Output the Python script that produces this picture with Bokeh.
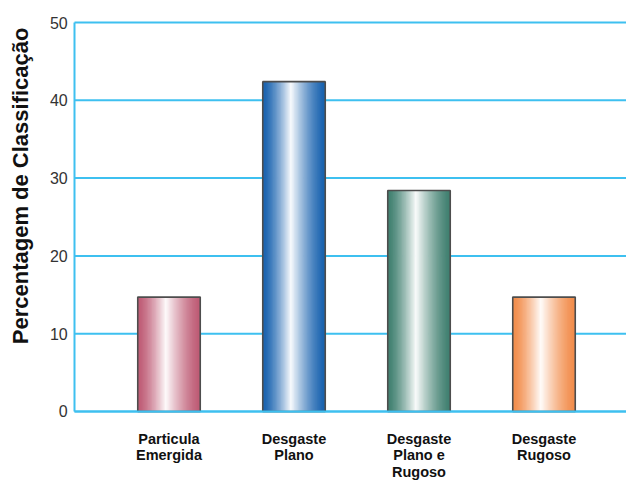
import math
from bokeh.plotting import figure
from bokeh.models import Range1d
from bokeh.core.properties import value
from bokeh.embed import file_html
from bokeh.resources import INLINE

# Data
categories = ["Particula\nEmergida", "Desgaste\nPlano", "Desgaste\nPlano e\nRugoso", "Desgaste\nRugoso"]
values = [14.7, 42.4, 28.4, 14.7]
edge_colors = ["#be5a74", "#1761ae", "#3f7f6f", "#f28c4a"]
y_ticks = [0, 10, 20, 30, 40, 50]
y_tick_labels = [str(t) for t in y_ticks]
y_title = "Percentagem de Classificação"

GRID = "#3ec0f0"
FONT = value("Liberation Sans")

# Frame covers the whole canvas; the value axis starts at X_AXIS
X_AXIS = 0.244
p = figure(width=626, height=482, output_backend="svg", toolbar_location=None,
           x_range=Range1d(-0.348, 4.66), y_range=Range1d(-9.13, 52.83),
           min_border=0)
p.outline_line_color = None
p.xaxis.visible = False
p.yaxis.visible = False
p.xgrid.grid_line_color = None
p.ygrid.grid_line_color = None
p.background_fill_color = "white"
p.border_fill_color = "white"

# Horizontal grid lines and the vertical value axis
p.segment(x0=[X_AXIS] * len(y_ticks), x1=[4.66] * len(y_ticks), y0=y_ticks, y1=y_ticks,
          line_color=GRID, line_width=2)
p.segment(x0=[X_AXIS], x1=[X_AXIS], y0=[y_ticks[0]], y1=[y_ticks[-1]],
          line_color=GRID, line_width=2)


def hex_to_rgb(h):
    h = h.lstrip("#")
    return tuple(int(h[i:i + 2], 16) for i in (0, 2, 4))


def shade(rgb, t):
    r, g, b = (int(round(c + (255 - c) * t)) for c in rgb)
    return f"#{r:02x}{g:02x}{b:02x}"


# Cylinder-like shading: each bar is filled with narrow vertical strips
bar_w = 0.5
n_strips = 48
hi = 0.45
sw = bar_w / n_strips
lefts, rights, tops, bottoms, colors = [], [], [], [], []
for i, (val, col) in enumerate(zip(values, edge_colors)):
    cx = i + 1
    rgb = hex_to_rgb(col)
    x0 = cx - bar_w / 2
    for k in range(n_strips):
        u = (k + 0.5) / n_strips
        d = abs(u - hi) / (hi if u < hi else 1 - hi)
        t = max(0.0, 1 - d) ** 1.4 * 0.97
        lefts.append(x0 + k * sw)
        rights.append(min(x0 + (k + 1.6) * sw, x0 + bar_w))
        tops.append(val)
        bottoms.append(0)
        colors.append(shade(rgb, t))

p.quad(left=lefts, right=rights, top=tops, bottom=bottoms, fill_color=colors, line_color=None)

centers = [i + 1 for i in range(len(values))]
p.quad(left=[c - bar_w / 2 for c in centers], right=[c + bar_w / 2 for c in centers],
       top=values, bottom=[0] * len(values), fill_color=None,
       line_color="#4d4d4d", line_width=1.6)

# Baseline drawn over the bar outlines
p.segment(x0=[X_AXIS], x1=[4.66], y0=[0], y1=[0], line_color=GRID, line_width=2)

# Value axis tick labels
p.text(x=[0.19] * len(y_ticks), y=y_ticks, text=y_tick_labels,
       text_align="right", text_baseline="middle", text_font=FONT,
       text_font_size="16px", text_color="#333333")

# Category labels under the bars
p.text(x=centers, y=[-2.45] * len(centers), text=categories,
       text_align="center", text_baseline="top", text_font=FONT,
       text_font_style="bold", text_font_size="14.5px", text_color="#111111",
       text_line_height=1.05)

# Vertical axis title
p.text(x=[-0.19], y=[29.0], text=[y_title], angle=math.pi / 2,
       text_align="center", text_baseline="middle", text_font=FONT,
       text_font_style="bold", text_font_size="22px", text_color="#111111")

open("out.html", "w").write(file_html(p, INLINE))
